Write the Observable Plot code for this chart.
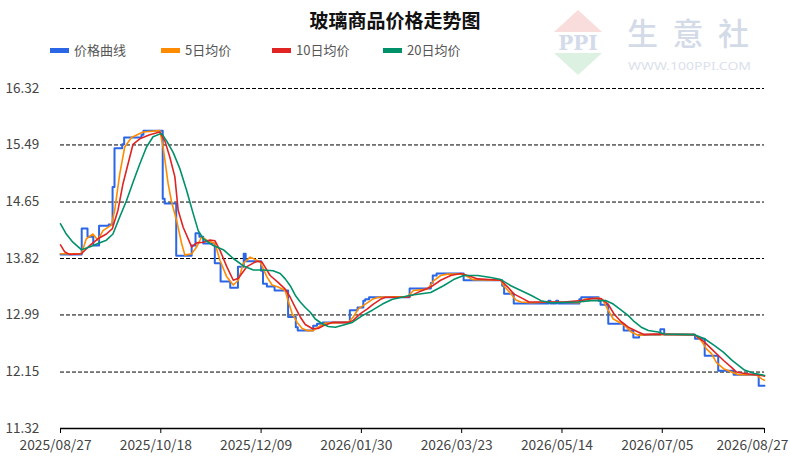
<!DOCTYPE html>
<html><head><meta charset="utf-8">
<script src="https://cdn.jsdelivr.net/npm/d3@7"></script>
<script src="https://cdn.jsdelivr.net/npm/@observablehq/plot@0.6"></script>
<style>
html,body{margin:0;padding:0;background:#fff;overflow:hidden;width:790px;height:458px;}
#wrap{position:relative;width:790px;height:458px;font-family:"Noto Sans CJK SC","Noto Sans",sans-serif;}
#head{position:relative;height:60px;}
#title{position:absolute;top:7px;left:0;width:790px;text-align:center;font-size:19px;font-weight:bold;color:#111;line-height:26px;}
#legend{position:absolute;top:40px;left:50px;display:flex;font-size:13px;color:#555;line-height:20px;}
.item{display:flex;align-items:center;width:111px;}
.sw{width:19px;height:5px;margin-right:5px;}
#wm{position:absolute;left:540px;top:0;}
#chart svg{display:block;}
</style></head>
<body>
<div id="wrap">
  <div id="head">
    <svg id="wm" width="250" height="80">
      <polygon points="38,10 14,32 62,32" fill="#f9dcdc"/>
      <text x="38" y="50" text-anchor="middle" font-family="DejaVu Serif, serif" font-weight="bold" font-size="20" fill="#d3dbea">PPI</text>
      <polygon points="14,53 62,53 38,75" fill="#dcf1e2"/>
      <text x="87" y="45" font-family="Noto Sans CJK SC" font-weight="500" font-size="31" fill="#d3dae8" textLength="122" lengthAdjust="spacing">生意社</text>
      <text x="88" y="70" font-family="Noto Sans" font-size="11" fill="#dbe1eb" textLength="123" lengthAdjust="spacingAndGlyphs">WWW.100PPI.COM</text>
    </svg>
    <div id="title"></div>
    <div id="legend"></div>
  </div>
  <div id="chart"></div>
</div>
<script>
const titleText = "玻璃商品价格走势图";
const seriesNames = ["价格曲线", "5日均价", "10日均价", "20日均价"];
const seriesColors = ["#2a66e6", "#ff8c00", "#e02424", "#00916a"];
const tickLabels = ["2025/08/27","2025/10/18","2025/12/09","2026/01/30","2026/03/23","2026/05/14","2026/07/05","2026/08/27"];
const yTicks = [11.32, 12.15, 12.99, 13.82, 14.65, 15.49, 16.32];

// day offsets from 2025/08/27
const priceDays = [0,11,14,17,20,25,27,28,32,33,42,43,53,54,60,68,70,72,74,80,83,88,92,95,96,104,105,107,111,118,122,123,131,133,136,150,154,157,158,160,181,192,193,195,209,229,230,235,253,254,257,258,269,270,279,280,284,292,297,300,311,313,329,334,341,349,362,365];
const priceVals = [13.88,14.26,14.14,14.01,14.30,14.32,14.87,15.44,15.50,15.60,15.64,15.70,14.70,14.63,13.86,14.01,14.19,14.14,14.04,13.75,13.48,13.39,13.70,13.89,13.78,13.64,13.45,13.41,13.35,12.96,12.81,12.76,12.83,12.86,12.88,13.06,13.10,13.20,13.22,13.25,13.38,13.46,13.57,13.60,13.50,13.42,13.30,13.16,13.20,13.16,13.20,13.16,13.22,13.25,13.20,13.14,12.86,12.76,12.66,12.70,12.78,12.70,12.64,12.39,12.17,12.11,11.95,11.95];

const ma5Days = [0,10.8,13.4,16.8,19.4,22.0,26.4,28.1,30.7,33.3,36.8,42.8,51.5,53.2,55.8,57.6,60.2,62.8,64.5,68.0,70.6,73.2,75.8,80.1,82.7,86.2,89.6,92.2,94.8,98.3,103.5,107.0,109.7,112.8,116.5,118.0,120.1,122.7,125.3,127.9,131.0,134.7,137.3,149.2,151.8,154.4,158.1,161.7,164.8,179.9,183.0,190.3,193.4,197.1,200.7,208.5,211.1,213.7,228.3,229.8,233.5,236.1,238.7,243.9,254.3,268.8,271.5,278.8,281.4,283.9,286.6,289.2,292.3,295.9,299.5,302.7,313.1,328.7,332.3,334.9,337.5,340.1,343.8,347.9,351.5,360.9,363.5,365];
const ma5Vals = [13.89,13.89,14.11,14.18,14.09,14.23,14.31,14.53,15.06,15.46,15.60,15.68,15.70,15.46,14.92,14.65,14.38,14.04,13.87,13.89,13.99,14.14,14.09,14.04,13.79,13.55,13.43,13.50,13.75,13.84,13.77,13.55,13.43,13.40,13.35,13.20,13.01,12.88,12.79,12.76,12.76,12.83,12.87,12.88,12.96,13.08,13.15,13.22,13.25,13.26,13.35,13.37,13.49,13.57,13.59,13.59,13.55,13.51,13.50,13.42,13.30,13.21,13.18,13.17,13.18,13.17,13.22,13.24,13.20,13.06,12.93,12.89,12.84,12.74,12.69,12.70,12.70,12.70,12.61,12.49,12.42,12.29,12.20,12.15,12.11,12.11,12.05,12.03];

const ma10Days = [0,2.1,4.7,10.8,15.1,19.4,23.8,26.9,29.8,32.4,35.0,37.6,41.1,46.3,51.5,54.1,56.7,59.3,61.0,63.6,68.0,70.6,74.0,77.5,80.1,82.7,86.2,89.6,92.2,96.6,101.8,104.4,108.7,112.8,116.5,119.1,121.7,124.3,126.9,130.5,133.6,136.2,140.9,149.2,151.8,155.5,159.1,162.2,165.9,168.5,180.0,181.5,186.7,191.9,197.1,202.3,207.5,211.1,216.3,228.3,231.9,235.0,239.7,242.9,261.1,269.9,275.1,280.3,283.9,287.1,290.7,294.4,299.5,302.7,307.9,328.7,333.9,337.5,341.2,343.8,347.9,350.5,354.6,363.5,365];
const ma10Vals = [14.02,13.92,13.88,13.89,14.01,14.11,14.18,14.26,14.53,14.92,15.21,15.50,15.58,15.64,15.68,15.55,15.31,15.02,14.53,14.28,13.99,14.05,14.06,14.09,14.08,13.94,13.70,13.50,13.53,13.70,13.78,13.77,13.57,13.47,13.37,13.25,13.10,12.96,12.85,12.79,12.79,12.83,12.88,12.88,12.91,13.01,13.08,13.15,13.22,13.25,13.25,13.27,13.34,13.40,13.50,13.57,13.60,13.57,13.52,13.50,13.40,13.30,13.23,13.18,13.18,13.20,13.23,13.23,13.15,13.00,12.89,12.81,12.74,12.70,12.71,12.70,12.59,12.49,12.39,12.32,12.22,12.15,12.13,12.10,12.09];

const ma20Days = [0,3.0,6.4,10.8,15.1,19.4,23.8,27.2,30.7,34.2,37.6,41.1,44.6,48.0,52.4,55.0,58.4,61.9,65.4,68.8,71.4,74.0,79.2,84.4,89.6,94.8,100.0,105.2,110.2,113.9,116.5,119.1,121.7,124.3,126.9,129.5,132.1,135.7,138.8,142.5,147.7,151.3,156.5,161.7,166.9,172.1,175.2,181.5,191.9,198.6,203.8,209.0,216.3,223.1,228.3,233.5,238.7,243.9,249.1,254.3,268.3,275.1,282.9,286.6,290.7,294.4,297.5,301.1,304.8,309.9,313.1,328.7,333.9,339.1,343.8,347.9,351.5,354.6,359.8,363.5,365];
const ma20Vals = [14.33,14.18,14.06,13.95,13.99,14.04,14.09,14.18,14.43,14.67,14.94,15.21,15.46,15.61,15.66,15.55,15.38,15.14,14.82,14.48,14.23,14.11,14.01,13.95,13.82,13.71,13.65,13.65,13.64,13.60,13.52,13.42,13.28,13.18,13.10,13.03,12.93,12.86,12.82,12.81,12.85,12.88,12.98,13.06,13.15,13.22,13.24,13.28,13.32,13.42,13.51,13.57,13.57,13.54,13.51,13.42,13.35,13.28,13.20,13.17,13.18,13.20,13.20,13.15,13.06,12.98,12.89,12.81,12.76,12.74,12.71,12.70,12.64,12.54,12.44,12.33,12.25,12.18,12.13,12.11,12.10];

const startMs = Date.UTC(2025, 7, 27);
const toDate = d => new Date(startMs + d * 864e5);
const xTicks = tickLabels.map(s => new Date(s.replace(/\//g, "-") + "T00:00:00Z"));
const build = (days, vals) => days.map((d, i) => ({date: toDate(d), value: vals[i]}));
const fmt = d3.utcFormat("%Y/%m/%d");

document.getElementById("title").textContent = titleText;
const legend = document.getElementById("legend");
seriesNames.forEach((n, i) => {
  const it = document.createElement("div"); it.className = "item";
  const sw = document.createElement("span"); sw.className = "sw"; sw.style.background = seriesColors[i];
  const tx = document.createElement("span"); tx.textContent = n;
  it.appendChild(sw); it.appendChild(tx); legend.appendChild(it);
});

const chart = Plot.plot({
  width: 790, height: 398,
  marginTop: 28, marginBottom: 30, marginLeft: 60, marginRight: 26,
  style: {fontFamily: '"Noto Sans CJK SC","Noto Sans",sans-serif', color: "#333", background: "#fff"},
  x: {type: "utc", domain: [toDate(0), toDate(365)]},
  y: {domain: [11.32, 16.32]},
  marks: [
    Plot.ruleY(yTicks.slice(1), {stroke: "#000", strokeDasharray: "4,2", strokeWidth: 1}),
    Plot.ruleY([yTicks[0]], {stroke: "#000", strokeWidth: 1.3}),
    Plot.axisX({ticks: xTicks, tickSize: 5, tickFormat: () => "", stroke: "#000", label: null}),
    Plot.axisX({ticks: xTicks.slice(0, -1), tickSize: 0, tickPadding: 12, tickFormat: fmt, dx: -5, fontSize: 13.8, fill: "#444", label: null}),
    Plot.axisX({ticks: xTicks.slice(-1), tickSize: 0, tickPadding: 12, tickFormat: fmt, textAnchor: "end", dx: 24, fontSize: 13.8, fill: "#444", label: null}),
    Plot.axisY({ticks: yTicks, tickSize: 0, tickPadding: 55, textAnchor: "start", tickFormat: d => d.toFixed(2), fontSize: 13.5, fill: "#444", label: null}),
    Plot.line(build(priceDays, priceVals), {x: "date", y: "value", curve: "step-after", stroke: seriesColors[0], strokeWidth: 2}),
    Plot.line(build(ma5Days, ma5Vals), {x: "date", y: "value", stroke: seriesColors[1], strokeWidth: 1.6}),
    Plot.line(build(ma10Days, ma10Vals), {x: "date", y: "value", stroke: seriesColors[2], strokeWidth: 1.6}),
    Plot.line(build(ma20Days, ma20Vals), {x: "date", y: "value", stroke: seriesColors[3], strokeWidth: 1.6})
  ]
});
document.getElementById("chart").appendChild(chart);
</script>
</body></html>
